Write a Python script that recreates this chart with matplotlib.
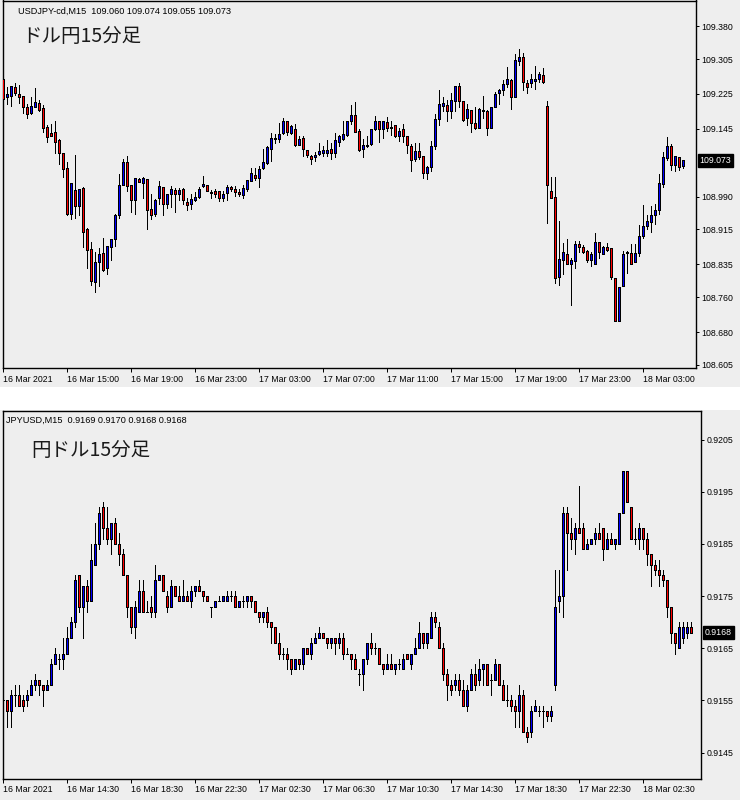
import matplotlib
matplotlib.use('Agg')
import matplotlib.pyplot as plt
from matplotlib.patches import Rectangle
import matplotlib.transforms as mtransforms

# USDJPY M15 (top)
uj_open = [109.259, 109.217, 109.221, 109.240, 109.225, 109.220, 109.195, 109.181, 109.196, 109.204,
           109.192, 109.150, 109.136, 109.138, 109.120, 109.090, 109.055, 108.950, 109.006, 108.968,
           109.010, 108.916, 108.871, 108.794, 108.841, 108.861, 108.827, 108.874, 108.892, 108.947,
           109.016, 109.069, 109.017, 108.982, 109.030, 109.021, 109.030, 108.962, 108.950, 108.986,
           109.012, 108.974, 108.995, 109.006, 108.995, 109.007, 108.978, 108.974, 108.982, 108.990,
           109.014, 109.016, 108.998, 109.004, 109.002, 108.988, 108.998, 109.012, 109.007, 109.001,
           108.994, 109.007, 109.025, 109.039, 109.032, 109.055, 109.067, 109.099, 109.122, 109.122,
           109.135, 109.163, 109.135, 109.144, 109.108, 109.124, 109.097, 109.083, 109.080, 109.087,
           109.090, 109.089, 109.099, 109.090, 109.116, 109.123, 109.132, 109.164, 109.177, 109.141,
           109.099, 109.105, 109.110, 109.145, 109.163, 109.144, 109.161, 109.146, 109.154, 109.129,
           109.145, 109.129, 109.106, 109.076, 109.095, 109.082, 109.044, 109.057, 109.106, 109.167,
           109.198, 109.200, 109.187, 109.210, 109.243, 109.209, 109.171, 109.189, 109.158, 109.146,
           109.186, 109.185, 109.147, 109.196, 109.227, 109.233, 109.247, 109.257, 109.219, 109.301,
           109.309, 109.251, 109.249, 109.255, 109.259, 109.268, 109.198, 109.004, 108.989, 108.806,
           108.846, 108.859, 108.835, 108.842, 108.882, 108.875, 108.865, 108.844, 108.836, 108.886,
           108.859, 108.875, 108.873, 108.804, 108.705, 108.785, 108.863, 108.861, 108.840, 108.861,
           108.899, 108.922, 108.931, 108.947, 108.960, 109.020, 109.078, 109.106, 109.063, 109.080,
           109.060]
uj_high = [109.289, 109.242, 109.243, 109.249, 109.246, 109.220, 109.201, 109.217, 109.238, 109.211,
           109.200, 109.154, 109.157, 109.163, 109.122, 109.090, 109.070, 109.021, 109.086, 109.008,
           109.011, 108.918, 108.886, 108.864, 108.873, 108.896, 108.878, 108.894, 108.950, 109.042,
           109.077, 109.082, 109.017, 109.033, 109.033, 109.035, 109.030, 108.997, 108.985, 109.025,
           109.012, 108.996, 109.014, 109.010, 109.010, 109.010, 108.988, 108.995, 109.000, 109.011,
           109.038, 109.016, 109.006, 109.007, 109.004, 109.004, 109.017, 109.015, 109.015, 109.007,
           109.017, 109.029, 109.055, 109.055, 109.061, 109.099, 109.106, 109.135, 109.134, 109.158,
           109.170, 109.163, 109.154, 109.156, 109.129, 109.129, 109.097, 109.086, 109.092, 109.112,
           109.106, 109.120, 109.112, 109.135, 109.131, 109.163, 109.163, 109.200, 109.206, 109.144,
           109.122, 109.129, 109.145, 109.175, 109.163, 109.163, 109.172, 109.162, 109.154, 109.147,
           109.157, 109.129, 109.110, 109.112, 109.112, 109.083, 109.061, 109.118, 109.179, 109.234,
           109.217, 109.211, 109.227, 109.243, 109.251, 109.209, 109.201, 109.189, 109.196, 109.194,
           109.221, 109.189, 109.196, 109.230, 109.236, 109.257, 109.286, 109.259, 109.316, 109.328,
           109.318, 109.257, 109.271, 109.289, 109.275, 109.284, 109.208, 109.034, 109.036, 108.935,
           108.884, 108.892, 108.850, 108.889, 108.888, 108.880, 108.869, 108.863, 108.906, 108.886,
           108.877, 108.883, 108.873, 108.804, 108.784, 108.865, 108.865, 108.882, 108.882, 108.924,
           108.972, 108.949, 108.968, 108.974, 109.042, 109.093, 109.126, 109.110, 109.083, 109.080,
           109.074]
uj_low = [109.211, 109.201, 109.198, 109.223, 109.204, 109.181, 109.170, 109.179, 109.196, 109.187,
          109.137, 109.116, 109.128, 109.091, 109.065, 109.034, 108.949, 108.940, 108.941, 108.949,
          108.874, 108.826, 108.788, 108.772, 108.785, 108.819, 108.812, 108.846, 108.878, 108.941,
          109.016, 109.004, 108.956, 108.951, 109.023, 108.987, 108.917, 108.940, 108.945, 108.974,
          108.949, 108.963, 108.966, 108.956, 108.982, 108.974, 108.959, 108.962, 108.979, 108.988,
          109.011, 109.004, 108.988, 108.989, 108.979, 108.979, 108.982, 109.002, 108.991, 108.991,
          108.986, 109.004, 109.025, 109.029, 109.011, 109.053, 109.065, 109.071, 109.112, 109.116,
          109.134, 109.131, 109.134, 109.105, 109.108, 109.084, 109.080, 109.065, 109.071, 109.086,
          109.082, 109.083, 109.077, 109.080, 109.106, 109.120, 109.128, 109.157, 109.137, 109.094,
          109.080, 109.103, 109.109, 109.143, 109.116, 109.125, 109.141, 109.131, 109.126, 109.118,
          109.116, 109.090, 109.048, 109.071, 109.076, 109.033, 109.030, 109.048, 109.099, 109.154,
          109.185, 109.164, 109.169, 109.185, 109.195, 109.162, 109.154, 109.137, 109.145, 109.146,
          109.170, 109.132, 109.147, 109.195, 109.202, 109.223, 109.240, 109.190, 109.219, 109.291,
          109.234, 109.227, 109.240, 109.236, 109.252, 109.249, 108.930, 108.987, 108.793, 108.788,
          108.812, 108.835, 108.743, 108.827, 108.863, 108.860, 108.840, 108.832, 108.836, 108.850,
          108.858, 108.865, 108.802, 108.705, 108.705, 108.785, 108.816, 108.835, 108.840, 108.854,
          108.896, 108.916, 108.909, 108.928, 108.951, 109.012, 109.074, 109.052, 109.048, 109.052,
          109.055]
uj_close = [109.213, 109.225, 109.243, 109.227, 109.219, 109.196, 109.179, 109.198, 109.207, 109.189,
            109.148, 109.126, 109.128, 109.116, 109.091, 109.053, 108.951, 109.021, 108.968, 109.008,
            108.909, 108.867, 108.797, 108.841, 108.858, 108.823, 108.878, 108.894, 108.949, 109.017,
            109.069, 109.014, 108.982, 109.033, 109.023, 109.033, 108.959, 108.947, 108.983, 109.014,
            108.973, 108.996, 109.007, 108.995, 109.006, 108.982, 108.970, 108.985, 108.990, 109.008,
            109.019, 109.004, 109.001, 108.995, 108.988, 108.996, 109.012, 109.007, 109.001, 108.995,
            109.010, 109.027, 109.044, 109.032, 109.053, 109.069, 109.103, 109.124, 109.124, 109.133,
            109.163, 109.137, 109.152, 109.109, 109.122, 109.099, 109.085, 109.076, 109.086, 109.095,
            109.097, 109.097, 109.091, 109.120, 109.128, 109.133, 109.163, 109.177, 109.137, 109.096,
            109.109, 109.108, 109.145, 109.163, 109.144, 109.163, 109.147, 109.150, 109.129, 109.141,
            109.128, 109.109, 109.074, 109.095, 109.080, 109.044, 109.059, 109.106, 109.167, 109.201,
            109.205, 109.185, 109.211, 109.243, 109.209, 109.166, 109.190, 109.158, 109.147, 109.191,
            109.189, 109.147, 109.196, 109.224, 109.234, 109.248, 109.259, 109.219, 109.303, 109.309,
            109.252, 109.242, 109.259, 109.259, 109.271, 109.252, 109.017, 108.987, 108.804, 108.848,
            108.864, 108.836, 108.846, 108.882, 108.875, 108.863, 108.845, 108.859, 108.886, 108.863,
            108.874, 108.867, 108.806, 108.705, 108.784, 108.859, 108.860, 108.836, 108.861, 108.899,
            108.922, 108.935, 108.949, 108.960, 109.021, 109.080, 109.106, 109.063, 109.083, 109.059,
            109.073]
uj_ticks = [109.380, 109.305, 109.225, 109.145, 108.990, 108.915, 108.835, 108.760, 108.680, 108.605]
uj_dates = ['16 Mar 2021', '16 Mar 15:00', '16 Mar 19:00', '16 Mar 23:00', '17 Mar 03:00', '17 Mar 07:00',
            '17 Mar 11:00', '17 Mar 15:00', '17 Mar 19:00', '17 Mar 23:00', '18 Mar 03:00']

# JPYUSD M15 (bottom)
ju_open = [0.9155, 0.9155, 0.9153, 0.9156, 0.9156, 0.9155, 0.9155, 0.9156, 0.9158, 0.9159,
           0.9158, 0.9157, 0.9158, 0.9162, 0.9163, 0.9163, 0.9164, 0.9167, 0.9170, 0.9179,
           0.9173, 0.9177, 0.9174, 0.9181, 0.9185, 0.9192, 0.9188, 0.9186, 0.9189, 0.9185,
           0.9183, 0.9179, 0.9173, 0.9169, 0.9172, 0.9176, 0.9172, 0.9173, 0.9172, 0.9178,
           0.9179, 0.9175, 0.9173, 0.9177, 0.9175, 0.9174, 0.9175, 0.9174, 0.9176, 0.9177,
           0.9176, 0.9175, 0.9173, 0.9173, 0.9174, 0.9174, 0.9174, 0.9175, 0.9175, 0.9173,
           0.9174, 0.9174, 0.9175, 0.9174, 0.9172, 0.9171, 0.9172, 0.9170, 0.9169, 0.9166,
           0.9164, 0.9164, 0.9163, 0.9161, 0.9163, 0.9162, 0.9165, 0.9164, 0.9166, 0.9167,
           0.9168, 0.9167, 0.9166, 0.9167, 0.9166, 0.9167, 0.9164, 0.9164, 0.9163, 0.9160,
           0.9160, 0.9163, 0.9166, 0.9165, 0.9165, 0.9162, 0.9161, 0.9162, 0.9161, 0.9162,
           0.9161, 0.9164, 0.9162, 0.9164, 0.9165, 0.9168, 0.9166, 0.9167, 0.9171, 0.9169,
           0.9165, 0.9160, 0.9158, 0.9158, 0.9159, 0.9157, 0.9154, 0.9157, 0.9160, 0.9159,
           0.9161, 0.9162, 0.9159, 0.9159, 0.9162, 0.9158, 0.9155, 0.9155, 0.9154, 0.9153,
           0.9156, 0.9149, 0.9149, 0.9153, 0.9153, 0.9153, 0.9153, 0.9152, 0.9158, 0.9174,
           0.9175, 0.9191, 0.9187, 0.9186, 0.9188, 0.9188, 0.9184, 0.9185, 0.9186, 0.9187,
           0.9188, 0.9184, 0.9186, 0.9185, 0.9185, 0.9191, 0.9199, 0.9192, 0.9186, 0.9186,
           0.9188, 0.9186, 0.9183, 0.9181, 0.9180, 0.9179, 0.9178, 0.9173, 0.9168, 0.9165,
           0.9167, 0.9168, 0.9169]
ju_high = [0.9158, 0.9155, 0.9157, 0.9158, 0.9158, 0.9156, 0.9157, 0.9159, 0.9160, 0.9159,
           0.9158, 0.9159, 0.9163, 0.9165, 0.9164, 0.9167, 0.9169, 0.9171, 0.9179, 0.9179,
           0.9177, 0.9178, 0.9185, 0.9189, 0.9192, 0.9193, 0.9192, 0.9189, 0.9190, 0.9187,
           0.9184, 0.9179, 0.9173, 0.9174, 0.9178, 0.9178, 0.9174, 0.9175, 0.9181, 0.9179,
           0.9179, 0.9176, 0.9178, 0.9177, 0.9177, 0.9178, 0.9176, 0.9177, 0.9177, 0.9178,
           0.9176, 0.9175, 0.9173, 0.9174, 0.9175, 0.9175, 0.9176, 0.9176, 0.9176, 0.9174,
           0.9175, 0.9175, 0.9175, 0.9174, 0.9172, 0.9172, 0.9173, 0.9170, 0.9169, 0.9168,
           0.9165, 0.9165, 0.9163, 0.9163, 0.9163, 0.9165, 0.9165, 0.9167, 0.9168, 0.9169,
           0.9168, 0.9167, 0.9167, 0.9167, 0.9168, 0.9168, 0.9165, 0.9164, 0.9164, 0.9161,
           0.9163, 0.9166, 0.9168, 0.9166, 0.9165, 0.9162, 0.9164, 0.9164, 0.9162, 0.9163,
           0.9164, 0.9164, 0.9164, 0.9167, 0.9170, 0.9168, 0.9168, 0.9172, 0.9172, 0.9170,
           0.9166, 0.9161, 0.9159, 0.9160, 0.9160, 0.9159, 0.9158, 0.9161, 0.9162, 0.9163,
           0.9162, 0.9162, 0.9160, 0.9163, 0.9162, 0.9159, 0.9158, 0.9156, 0.9155, 0.9158,
           0.9157, 0.9150, 0.9154, 0.9155, 0.9154, 0.9154, 0.9153, 0.9154, 0.9180, 0.9180,
           0.9192, 0.9192, 0.9190, 0.9189, 0.9196, 0.9189, 0.9186, 0.9186, 0.9188, 0.9189,
           0.9188, 0.9187, 0.9187, 0.9186, 0.9191, 0.9199, 0.9199, 0.9192, 0.9188, 0.9189,
           0.9188, 0.9187, 0.9183, 0.9182, 0.9182, 0.9180, 0.9178, 0.9173, 0.9168, 0.9170,
           0.9170, 0.9170, 0.9170]
ju_low = [0.9155, 0.9150, 0.9150, 0.9154, 0.9154, 0.9153, 0.9154, 0.9156, 0.9157, 0.9156,
          0.9154, 0.9157, 0.9158, 0.9162, 0.9161, 0.9161, 0.9164, 0.9167, 0.9169, 0.9172,
          0.9167, 0.9172, 0.9174, 0.9181, 0.9184, 0.9186, 0.9185, 0.9183, 0.9185, 0.9181,
          0.9179, 0.9171, 0.9168, 0.9167, 0.9172, 0.9172, 0.9172, 0.9171, 0.9171, 0.9178,
          0.9176, 0.9172, 0.9173, 0.9175, 0.9174, 0.9174, 0.9174, 0.9173, 0.9175, 0.9176,
          0.9174, 0.9174, 0.9171, 0.9173, 0.9174, 0.9174, 0.9174, 0.9174, 0.9173, 0.9173,
          0.9173, 0.9173, 0.9173, 0.9172, 0.9170, 0.9170, 0.9169, 0.9166, 0.9166, 0.9163,
          0.9163, 0.9161, 0.9160, 0.9161, 0.9161, 0.9161, 0.9164, 0.9163, 0.9166, 0.9167,
          0.9167, 0.9165, 0.9165, 0.9164, 0.9165, 0.9163, 0.9164, 0.9161, 0.9161, 0.9158,
          0.9157, 0.9162, 0.9164, 0.9164, 0.9162, 0.9160, 0.9161, 0.9161, 0.9160, 0.9161,
          0.9161, 0.9163, 0.9161, 0.9164, 0.9165, 0.9165, 0.9165, 0.9167, 0.9169, 0.9165,
          0.9159, 0.9155, 0.9156, 0.9157, 0.9156, 0.9154, 0.9153, 0.9157, 0.9157, 0.9158,
          0.9158, 0.9158, 0.9156, 0.9159, 0.9158, 0.9155, 0.9154, 0.9153, 0.9150, 0.9150,
          0.9149, 0.9147, 0.9148, 0.9153, 0.9152, 0.9150, 0.9151, 0.9151, 0.9157, 0.9172,
          0.9171, 0.9180, 0.9184, 0.9183, 0.9187, 0.9184, 0.9184, 0.9185, 0.9185, 0.9186,
          0.9182, 0.9184, 0.9185, 0.9184, 0.9185, 0.9191, 0.9193, 0.9186, 0.9185, 0.9184,
          0.9184, 0.9181, 0.9177, 0.9179, 0.9177, 0.9177, 0.9171, 0.9166, 0.9164, 0.9165,
          0.9166, 0.9167, 0.9168]
ju_close = [0.9155, 0.9153, 0.9156, 0.9156, 0.9154, 0.9154, 0.9156, 0.9158, 0.9159, 0.9158,
            0.9157, 0.9158, 0.9162, 0.9164, 0.9163, 0.9164, 0.9167, 0.9170, 0.9178, 0.9173,
            0.9177, 0.9174, 0.9182, 0.9185, 0.9191, 0.9188, 0.9186, 0.9189, 0.9185, 0.9183,
            0.9179, 0.9173, 0.9169, 0.9173, 0.9176, 0.9172, 0.9172, 0.9172, 0.9178, 0.9179,
            0.9176, 0.9173, 0.9177, 0.9175, 0.9174, 0.9175, 0.9174, 0.9176, 0.9177, 0.9176,
            0.9175, 0.9174, 0.9173, 0.9174, 0.9174, 0.9175, 0.9175, 0.9175, 0.9173, 0.9174,
            0.9174, 0.9175, 0.9174, 0.9172, 0.9171, 0.9172, 0.9170, 0.9169, 0.9166, 0.9164,
            0.9164, 0.9163, 0.9161, 0.9163, 0.9162, 0.9165, 0.9164, 0.9166, 0.9167, 0.9168,
            0.9167, 0.9166, 0.9167, 0.9166, 0.9167, 0.9164, 0.9164, 0.9163, 0.9161, 0.9160,
            0.9163, 0.9166, 0.9165, 0.9165, 0.9162, 0.9161, 0.9162, 0.9161, 0.9162, 0.9162,
            0.9163, 0.9163, 0.9164, 0.9165, 0.9168, 0.9166, 0.9168, 0.9171, 0.9170, 0.9165,
            0.9160, 0.9158, 0.9157, 0.9159, 0.9157, 0.9154, 0.9157, 0.9160, 0.9158, 0.9161,
            0.9162, 0.9158, 0.9159, 0.9162, 0.9158, 0.9155, 0.9155, 0.9154, 0.9153, 0.9156,
            0.9149, 0.9148, 0.9153, 0.9154, 0.9153, 0.9153, 0.9152, 0.9153, 0.9173, 0.9175,
            0.9191, 0.9187, 0.9186, 0.9188, 0.9187, 0.9184, 0.9185, 0.9186, 0.9187, 0.9186,
            0.9184, 0.9186, 0.9185, 0.9186, 0.9191, 0.9199, 0.9193, 0.9186, 0.9186, 0.9188,
            0.9186, 0.9183, 0.9181, 0.9180, 0.9179, 0.9178, 0.9173, 0.9168, 0.9166, 0.9169,
            0.9169, 0.9169, 0.9168]
ju_ticks = [0.9205, 0.9195, 0.9185, 0.9175, 0.9165, 0.9155, 0.9145]
ju_dates = ['16 Mar 2021', '16 Mar 14:30', '16 Mar 18:30', '16 Mar 22:30', '17 Mar 02:30', '17 Mar 06:30',
            '17 Mar 10:30', '17 Mar 14:30', '17 Mar 18:30', '17 Mar 22:30', '18 Mar 02:30']

W, H = 740, 800
BG = '#eeeeee'
LW = 0.72  # one pixel at dpi 100
SMALL = ['Liberation Sans', 'DejaVu Sans']
JP = ['Noto Sans CJK JP', 'DejaVu Sans']


def fpos(l, t, r, b):
    # pixel box -> figure fraction
    return [l / W, 1 - b / H, (r - l) / W, (b - t) / H]


def candles(ax, o, h, l, c):
    for i in range(len(o)):
        ax.vlines(i, l[i], h[i], color='black', lw=LW, zorder=2, antialiased=False)
        col = '#0000ff' if c[i] > o[i] else '#ff0000'
        ax.bar(i, abs(c[i] - o[i]), bottom=min(o[i], c[i]), width=0.55,
               color=col, edgecolor='black', linewidth=LW, zorder=3, antialiased=False)


def panel(rect, right_px, o, h, l, c, ylim, yticks, fmt, dates, cur_box_x):
    ax = fig.add_axes(rect)
    ax.set_facecolor(BG)
    candles(ax, o, h, l, c)
    x0 = -0.125
    ax.set_xlim(x0, x0 + (right_px - 2.5) / 4)
    ax.set_ylim(*ylim)
    for s in ax.spines.values():
        s.set_linewidth(1.0)
        s.set_color('black')
    ax.yaxis.tick_right()
    ax.set_yticks(yticks)
    ax.set_yticklabels([fmt.format(v) for v in yticks])
    ax.set_xticks(list(range(0, 16 * len(dates), 16)))
    ax.set_xticklabels(dates)
    for lbl in ax.get_xticklabels():
        lbl.set_horizontalalignment('left')
    ax.tick_params(axis='y', direction='out', length=2.5, width=LW, pad=1.5, labelsize=6.3)
    ax.tick_params(axis='x', direction='out', length=3, width=LW, pad=1.5, labelsize=6.3)
    for lbl in ax.get_xticklabels() + ax.get_yticklabels():
        lbl.set_family(SMALL)
    # current price marker on the price scale
    tr = mtransforms.blended_transform_factory(fig.transFigure, ax.transData)
    ax.text(cur_box_x / W, c[-1], fmt.format(c[-1]), transform=tr, ha='left', va='center',
            color='white', fontsize=6.3, family=SMALL, zorder=10,
            bbox=dict(boxstyle='square,pad=0.2', fc='black', ec='black'))
    return ax


fig = plt.figure(figsize=(W / 100, H / 100), dpi=100, facecolor='white')
fig.patches.append(Rectangle((0, 1 - 387 / H), 1, 387 / H, transform=fig.transFigure,
                             fc=BG, ec='none', zorder=-10))
fig.patches.append(Rectangle((0, 0), 1, (H - 410) / H, transform=fig.transFigure,
                             fc=BG, ec='none', zorder=-10))

# top: USDJPY
panel(fpos(2.5, 0.5, 696, 368.3), 696, uj_open, uj_high, uj_low, uj_close,
      (108.5972, 109.4389), uj_ticks, '{:.3f}', uj_dates, 699.5)
fig.text(18 / W, 1 - 11 / H, 'USDJPY-cd,M15  109.060 109.074 109.055 109.073',
         fontsize=6.6, family=SMALL, va='center', ha='left', color='black')
fig.text(22 / W, 1 - 37 / H, 'ドル円15分足', fontsize=14, family=JP,
         va='center', ha='left', color='#1a1a1a')

# bottom: JPYUSD
panel(fpos(2.5, 411, 701, 779), 701, ju_open, ju_high, ju_low, ju_close,
      (0.913996, 0.921046), ju_ticks, '{:.4f}', ju_dates, 705)
fig.text(6 / W, 1 - 420 / H, 'JPYUSD,M15  0.9169 0.9170 0.9168 0.9168',
         fontsize=6.6, family=SMALL, va='center', ha='left', color='black')
fig.text(31 / W, 1 - 451 / H, '円ドル15分足', fontsize=14, family=JP,
         va='center', ha='left', color='#1a1a1a')

fig.savefig('out.png', dpi=100, facecolor=fig.get_facecolor())
